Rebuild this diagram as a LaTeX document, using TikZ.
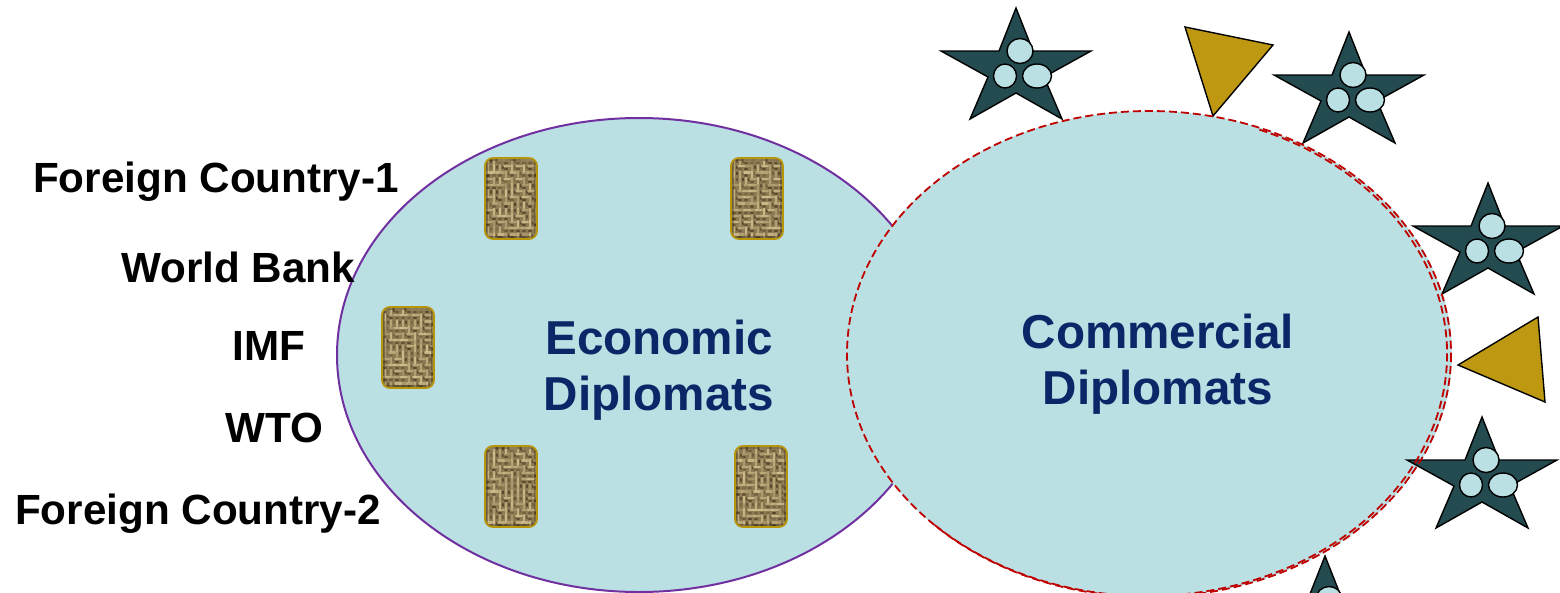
\documentclass[tikz,border=0pt]{standalone}
\usepackage{fontspec}
\setmainfont{Liberation Sans}
\definecolor{paleteal}{HTML}{BAE0E3}
\definecolor{darkteal}{HTML}{234B50}
\definecolor{goldfill}{HTML}{BE9811}
\definecolor{goldline}{HTML}{B8960C}
\definecolor{navytext}{HTML}{0B2768}
\definecolor{purpleline}{HTML}{7030A0}
\definecolor{reddash}{HTML}{C00000}
\definecolor{wovenbase}{HTML}{8F7C54}
\definecolor{wovenlight}{HTML}{E2CF9C}
\definecolor{wovendark}{HTML}{3A2E18}
\pgfmathsetseed{4711}
\tikzset{
  x=1pt,y=-1pt,
  lbl/.style={font=\fontsize{42.2}{42}\selectfont\bfseries,text=black,inner sep=0pt},
  dip/.style={font=\fontsize{47.6}{56}\selectfont\bfseries,text=navytext,align=center,inner sep=0pt},
  dashring/.style={draw=reddash,line width=1.8pt,dash pattern=on 8pt off 4pt},
  tri/.style={fill=goldfill,draw=black,line width=1.4pt,line join=miter},
  starline/.style={fill=darkteal,draw=black,line width=1.4pt,line join=miter},
  dot/.style={fill=paleteal,draw=black,line width=1.4pt},
  starmark/.pic={
    \path[starline] (0,0)--(17,43)--(75,43)--(28,69)--(46,111)--(0,85)--(-46,111)--(-28,69)--(-75,43)--(-17,43)--cycle;
    \path[dot] (4,43) ellipse [x radius=13,y radius=12.5];
    \path[dot] (-11,68) ellipse [x radius=11.5,y radius=12];
    \path[dot] (21,68) ellipse [x radius=14.5,y radius=12];
  },
  woven/.pic={
    \begin{scope}
      \clip[rounded corners=8pt] (0,0) rectangle (52,81);
      \fill[wovenbase] (0,0) rectangle (52,81);
      \foreach \r in {0,...,12}{
        \foreach \c in {0,...,8}{
          \pgfmathtruncatemacro{\k}{mod(\r+\c+int(rnd*1.35),2)}
          \pgfmathsetmacro{\px}{1+\c*6}
          \pgfmathsetmacro{\py}{1+\r*6.2}
          \pgfmathsetmacro{\op}{.25+rnd*.5}
          \pgfmathsetmacro{\dk}{.2+rnd*.5}
          \ifnum\k=0
            \draw[wovenlight,line width=2.2pt,opacity=\op,line cap=round] (\px,\py+1)--(\px+6,\py+1);
            \draw[wovendark,line width=2.2pt,opacity=\dk,line cap=round] (\px+1,\py+4)--(\px+3,\py+4);
          \else
            \draw[wovenlight,line width=2.2pt,opacity=\op,line cap=round] (\px+2,\py)--(\px+2,\py+6);
            \draw[wovendark,line width=2.2pt,opacity=\dk,line cap=round] (\px+5,\py+1)--(\px+5,\py+3);
          \fi
        }
      }
      \draw[wovendark,line width=6pt,opacity=.4] (0,0) rectangle (52,81);
    \end{scope}
    \draw[goldline,line width=1.8pt,rounded corners=8pt] (0,0) rectangle (52,81);
  }
}
\begin{document}
\begin{tikzpicture}
\useasboundingbox (0,0) rectangle (1560,592);
\begin{scope}
\clip (0,0) rectangle (1560,592);
\path[fill=paleteal,draw=purpleline,line width=2pt] (639,355) ellipse [x radius=302,y radius=237];
\path[fill=paleteal] (1149,354) ellipse [x radius=303,y radius=243];
\pic (star1) at (1016,8) {starmark};
\pic (star2) at (1349,32) {starmark};
\pic (star3) at (1488,183) {starmark};
\pic (star4) at (1482,417) {starmark};
\pic (star5) at (1325,556) {starmark};
\path[tri] (1185,27)--(1273,45)--(1213,116)--cycle;
\path[tri] (1458,365)--(1538,317)--(1545,402)--cycle;
\path[dashring] (1149,354) ellipse [x radius=302,y radius=243];
\path[dashring] (1147,354) ++({300*cos(-68)},{242*sin(-68)}) arc [start angle=-68,end angle=135,x radius=300,y radius=242];
\pic (w1) at (485,158) {woven};
\pic (w2) at (731,158) {woven};
\pic (w3) at (382,307) {woven};
\pic (w4) at (485,446) {woven};
\pic (w5) at (735,446) {woven};
\end{scope}
\node[lbl] (fc1) at (216,182) {Foreign Country-1};
\node[lbl] (wb) at (238,267) {World Bank};
\node[lbl] (imf) at (269,346) {IMF};
\node[lbl] (wto) at (274,428) {WTO};
\node[lbl] (fc2) at (198,514) {Foreign Country-2};
\node[dip] (eco) at (659,370) {Economic\\Diplomats};
\node[dip] (com) at (1158,364) {Commercial\\Diplomats};
\end{tikzpicture}
\end{document}
